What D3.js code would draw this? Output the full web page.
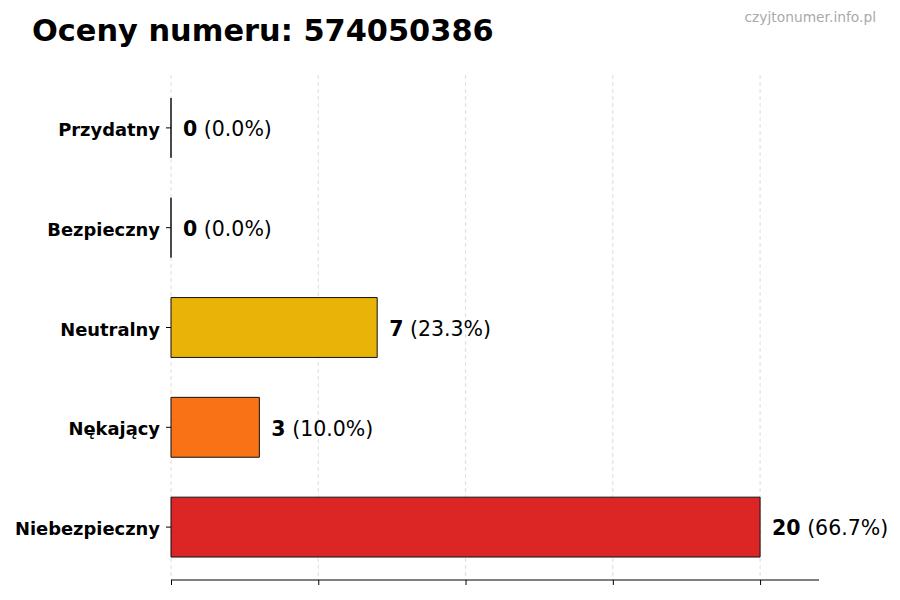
<!DOCTYPE html>
<html lang="en">
<head>
    <meta charset="UTF-8">
    <title>Oceny numeru</title>
    <script src="https://d3js.org/d3.v7.min.js"></script>
    <style>
        body{ margin:0; background:#fff; }
        svg{ font-family: "DejaVu Sans", sans-serif; }
    </style>
</head>
<body>
    <script>
        // chart data
        const categories = ["Przydatny","Bezpieczny","Neutralny","Nękający","Niebezpieczny"]
        const counts = [0,0,7,3,20]
        const percents = ["0.0%","0.0%","23.3%","10.0%","66.7%"]
        const colors = ["#22c55e","#16a34a","#eab308","#f97316","#dc2626"]
        const xTicks = [0,5,10,15,20]
        const title = "Oceny numeru: 574050386"
        const watermark = "czyjtonumer.info.pl"

        const size = {width:900,height:600}
        const svg = d3.select("body").append("svg")
                        .attr("width",size.width)
                        .attr("height",size.height)

        const xScale = d3.scaleLinear().domain([0,22]).range([171,819])
        const yScale = d3.scaleBand().domain(categories).range([78,577])
                            .paddingInner(0.4).paddingOuter(0.2)
        const axisY = 580

        // grid
        svg.append("g").selectAll("line")
            .data(xTicks)
            .join("line")
            .attr("x1",d=>xScale(d)).attr("x2",d=>xScale(d))
            .attr("y1",75).attr("y2",axisY)
            .attr("stroke","#d6d6d6")
            .attr("stroke-width",0.8)
            .attr("stroke-dasharray","4,3")

        // bars (drawn as paths so zero-width ones still show their outline)
        svg.append("g").selectAll("path")
            .data(categories)
            .join("path")
            .attr("d",(d,i)=>{
                const x0 = xScale(0), x1 = xScale(counts[i])
                const y0 = yScale(d), y1 = yScale(d)+yScale.bandwidth()
                return `M${x0},${y0}H${x1}V${y1}H${x0}Z`
            })
            .attr("fill",(d,i)=>colors[i])
            .attr("stroke","#111")
            .attr("stroke-width",1)

        // bottom axis
        const xAxis = d3.axisBottom(xScale).tickValues(xTicks).tickFormat("").tickSizeOuter(0).tickSize(5)
        const xg = svg.append("g").attr("transform",`translate(0,${axisY})`).call(xAxis)
        xg.select(".domain").attr("d",`M${xScale(0)},0H819`).attr("stroke","#000")
        xg.selectAll(".tick line").attr("stroke","#000")

        // left category labels and ticks
        const yg = svg.append("g").attr("transform",`translate(${xScale(0)},0)`)
                        .call(d3.axisLeft(yScale).tickSize(5).tickPadding(6))
        yg.select(".domain").remove()
        yg.selectAll(".tick line").attr("stroke","#000")
        yg.selectAll(".tick text")
            .attr("dy","0.45em")
            .style("font-size","17.9px")
            .style("font-weight","bold")
            .style("font-family","'DejaVu Sans', sans-serif")
            .attr("fill","#000")

        // value labels
        const lbl = svg.append("g").selectAll("text")
            .data(categories)
            .join("text")
            .attr("x",(d,i)=>xScale(counts[i])+12)
            .attr("y",d=>yScale(d)+yScale.bandwidth()/2)
            .attr("dy","0.4em")
            .style("font-size","20.5px")
            .attr("fill","#000")
        lbl.append("tspan").attr("font-weight","bold").text((d,i)=>counts[i])
        lbl.append("tspan").text((d,i)=>` (${percents[i]})`)

        // title
        svg.append("text")
            .attr("x",32).attr("y",41)
            .style("font-size","30.4px")
            .attr("font-weight","bold")
            .text(title)

        svg.append("text")
            .attr("x",876).attr("y",22)
            .attr("text-anchor","end")
            .style("font-size","13.8px")
            .attr("fill","#aaa")
            .text(watermark)
    </script>
</body>
</html>
